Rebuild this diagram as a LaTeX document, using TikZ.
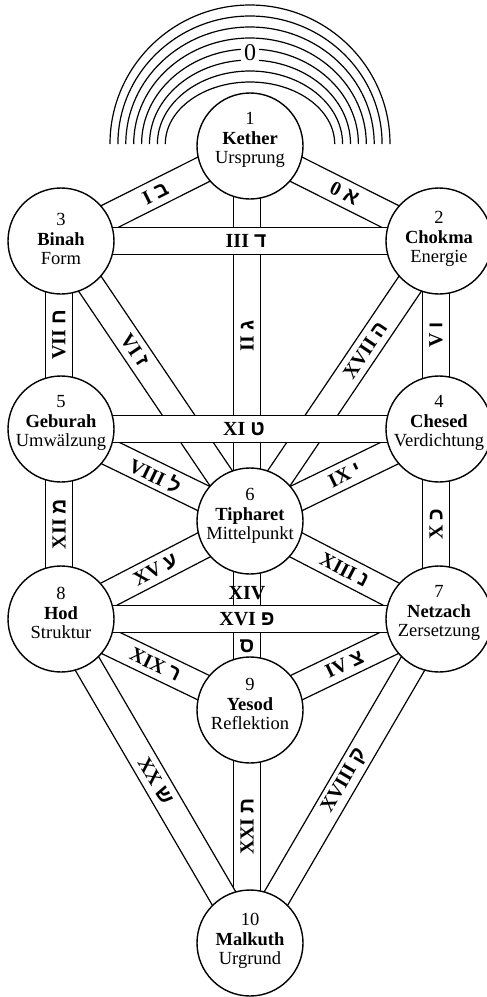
\documentclass[tikz,border=0pt]{standalone}
\usepackage{fontspec}
\setmainfont{Liberation Serif}
\newfontfamily\hebfont[Script=Hebrew]{Liberation Sans}
\TeXXeTstate=1
\usetikzlibrary{calc,backgrounds}
\newcommand\heb[1]{{\hebfont\bfseries\fontsize{21}{21}\selectfont\beginR#1\endR}}
\newcommand\pathband[2]{%
  \fill[white] ($(#1)!13.5pt!90:(#2)$) -- ($(#2)!13.5pt!-90:(#1)$) -- ($(#2)!13.5pt!90:(#1)$) -- ($(#1)!13.5pt!-90:(#2)$) -- cycle;
  \draw[bandline] ($(#1)!13.5pt!90:(#2)$) -- ($(#2)!13.5pt!-90:(#1)$);
  \draw[bandline] ($(#1)!13.5pt!-90:(#2)$) -- ($(#2)!13.5pt!90:(#1)$);}
\begin{document}
\begin{tikzpicture}[x=1pt,y=-1pt,
  sephira/.style={circle,draw,line width=1.4pt,fill=white,minimum size=106pt,inner sep=0pt},
  septext/.style={align=center,font=\fontsize{18.5}{19.5}\selectfont,inner sep=0pt},
  bandline/.style={line width=1.2pt},
  lbl/.style={font=\fontsize{20}{20}\selectfont\bfseries,inner sep=0pt},
  rainbow/.style={line width=1.2pt}]
\useasboundingbox (0,0) rectangle (487,997);
% sephiroth
\node[sephira] (kether)   at (250,146) {};
\node[sephira] (chokma)   at (439,241) {};
\node[sephira] (binah)    at (61,241) {};
\node[sephira] (chesed)   at (439,429) {};
\node[sephira] (geburah)  at (61,429) {};
\node[sephira] (tipharet) at (250,521) {};
\node[sephira] (netzach)  at (439,619) {};
\node[sephira] (hod)      at (61,619) {};
\node[sephira] (yesod)    at (250,710) {};
\node[sephira] (malkuth)  at (250,943) {};
\node[septext] (kether-t)   at ([yshift=6pt]kether.center)   {1\\\textbf{Kether}\\Ursprung};
\node[septext] (chokma-t)   at ([yshift=2pt]chokma.center)   {2\\\textbf{Chokma}\\Energie};
\node[septext] (binah-t)    at ([yshift=2pt]binah.center)    {3\\\textbf{Binah}\\Form};
\node[septext] (chesed-t)   at ([yshift=6pt]chesed.center)   {4\\\textbf{Chesed}\\Verdichtung};
\node[septext] (geburah-t)  at ([yshift=6pt]geburah.center)  {5\\\textbf{Geburah}\\Umwälzung};
\node[septext] (tipharet-t) at ([yshift=5pt]tipharet.center) {6\\\textbf{Tipharet}\\Mittelpunkt};
\node[septext] (netzach-t)  at ([yshift=6pt]netzach.center)  {7\\\textbf{Netzach}\\Zersetzung};
\node[septext] (hod-t)      at ([yshift=6pt]hod.center)      {8\\\textbf{Hod}\\Struktur};
\node[septext] (yesod-t)    at ([yshift=6pt]yesod.center)    {9\\\textbf{Yesod}\\Reflektion};
\node[septext] (malkuth-t)  at ([yshift=2pt]malkuth.center)  {10\\\textbf{Malkuth}\\Urgrund};
% shifted axes of the vertical paths
\coordinate (kv)  at ([xshift=-3pt]kether.center);
\coordinate (tv)  at ([xshift=-3pt]tipharet.center);
\coordinate (yv)  at ([xshift=-3pt]yesod.center);
\coordinate (mv)  at ([xshift=-3pt]malkuth.center);
\coordinate (bv)  at ([xshift=-2pt]binah.center);
\coordinate (gv)  at ([xshift=-2pt]geburah.center);
\coordinate (hv)  at ([xshift=-2pt]hod.center);
\coordinate (cv)  at ([xshift=-3pt]chokma.center);
\coordinate (chv) at ([xshift=-3pt]chesed.center);
\coordinate (nv)  at ([xshift=-3pt]netzach.center);
% rainbow above Kether
\coordinate (rb) at (250,144);
\foreach \k in {0,...,7}{
  \pgfmathsetmacro\ra{140-7.9*\k}
  \pgfmathsetmacro\rbb{139-11*\k}
  \draw[rainbow] ([xshift=-\ra pt]rb) arc[start angle=180,end angle=0,x radius=\ra pt,y radius=\rbb pt];
}
\node[fill=white,inner xsep=3pt,inner ysep=0pt,font=\fontsize{24}{24}\selectfont] (zero) at (250,53) {0};
% paths
\begin{scope}[on background layer]
  \fill[white] (0,0) rectangle (487,997);
  \pathband{binah.center}{kether.center}
  \pathband{kether.center}{chokma.center}
  \pathband{kv}{tv}
  \pathband{bv}{gv}
  \pathband{gv}{hv}
  \pathband{cv}{chv}
  \pathband{chv}{nv}
  \pathband{tv}{yv}
  \pathband{yv}{mv}
  \pathband{binah.center}{tipharet.center}
  \pathband{chokma.center}{tipharet.center}
  \pathband{geburah.center}{tipharet.center}
  \pathband{chesed.center}{tipharet.center}
  \pathband{hod.center}{tipharet.center}
  \pathband{netzach.center}{tipharet.center}
  \pathband{hod.center}{yesod.center}
  \pathband{netzach.center}{yesod.center}
  \pathband{hod.center}{malkuth.center}
  \pathband{netzach.center}{malkuth.center}
  \pathband{binah.center}{chokma.center}
  \pathband{geburah.center}{chesed.center}
  \pathband{hod.center}{netzach.center}
\end{scope}
% path labels
\node[lbl,rotate=26.7]  (p1)  at ($(binah.center)!0.5!(kether.center)$) {I \heb{ב}};
\node[lbl,rotate=-26.7] (p0)  at ($(kether.center)!0.5!(chokma.center)$) {0 \heb{א}};
\node[lbl,rotate=90]    (p2)  at ($(kv)!0.507!(tv)$) {II \heb{ג}};
\node[lbl,xshift=-4pt]  (p3)  at ($(binah.center)!0.5!(chokma.center)$) {III \heb{ד}};
\node[lbl,rotate=90]    (p5)  at ($(cv)!0.5!(chv)$) {V \heb{ו}};
\node[lbl,rotate=-56]   (p6)  at ($(binah.center)!0.39!(tipharet.center)$) {VI \heb{ז}};
\node[lbl,rotate=90]    (p7)  at ($(bv)!0.5!(gv)$) {VII \heb{ח}};
\node[lbl,rotate=-26]   (p8)  at ($(geburah.center)!0.5!(tipharet.center)$) {VIII \heb{ל}};
\node[lbl,rotate=26]    (p9)  at ($(tipharet.center)!0.5!(chesed.center)$) {IX \heb{י}};
\node[lbl,rotate=90]    (p10) at ($(chv)!0.5!(nv)$) {X \heb{כ}};
\node[lbl,xshift=-6pt]  (p11) at ($(geburah.center)!0.5!(chesed.center)$) {XI \heb{ט}};
\node[lbl,rotate=90]    (p12) at ($(gv)!0.5!(hv)$) {XII \heb{מ}};
\node[lbl,rotate=-27.4] (p13) at ($(tipharet.center)!0.5!(netzach.center)$) {XIII \heb{נ}};
\node[lbl]              (p14) at ($(tv)!0.38!(yv)$) {XIV};
\node[lbl]              (p14h) at ($(tv)!0.66!(yv)$) {\heb{ס}};
\node[lbl,rotate=27.4]  (p15) at ($(hod.center)!0.5!(tipharet.center)$) {XV \heb{ע}};
\node[lbl,xshift=-3pt]  (p16) at ($(hod.center)!0.5!(netzach.center)$) {XVI \heb{פ}};
\node[lbl,rotate=56]    (p17) at ($(chokma.center)!0.39!(tipharet.center)$) {XVII \heb{ה}};
\node[lbl,rotate=59.7]  (p18) at ($(malkuth.center)!0.5!(netzach.center)$) {XVIII \heb{ק}};
\node[lbl,rotate=-25.7] (p19) at ($(hod.center)!0.5!(yesod.center)$) {XIX \heb{ר}};
\node[lbl,rotate=25.7]  (p4)  at ($(yesod.center)!0.5!(netzach.center)$) {IV \heb{צ}};
\node[lbl,rotate=-59.7] (p20) at ($(hod.center)!0.5!(malkuth.center)$) {XX \heb{ש}};
\node[lbl,rotate=90]    (p21) at ($(yv)!0.5!(mv)$) {XXI \heb{ת}};
\end{tikzpicture}
\end{document}
